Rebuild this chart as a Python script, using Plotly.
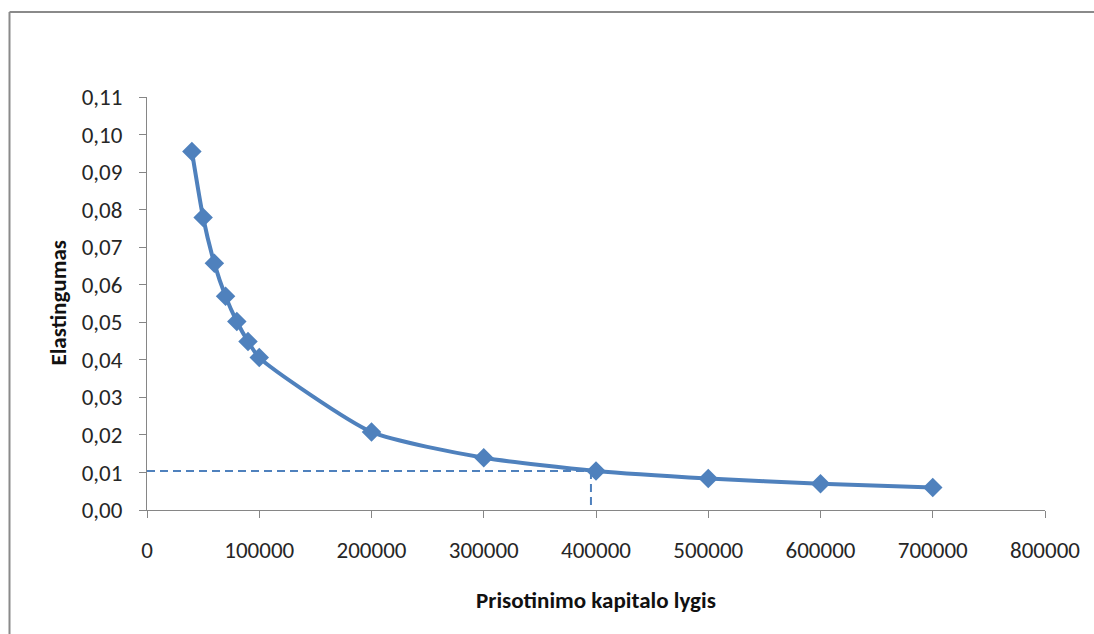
import plotly.graph_objects as go

# Data
capital = [40000, 50000, 60000, 70000, 80000, 90000, 100000,
           200000, 300000, 400000, 500000, 600000, 700000]
elasticity = [0.0955, 0.0779, 0.0657, 0.0569, 0.0502, 0.0449, 0.0406,
              0.0208, 0.0139, 0.0104, 0.0084, 0.0070, 0.0060]

# Reference (dashed) guide lines
guide_h_x = [0, 395500]
guide_h_y = [0.0104, 0.0104]
guide_v_x = [395500, 395500]
guide_v_y = [0.0104, -0.0007]

x_ticks = [0, 100000, 200000, 300000, 400000, 500000, 600000, 700000, 800000]
x_ticktext = ["0", "100000", "200000", "300000", "400000", "500000",
              "600000", "700000", "800000"]
y_ticks = [0.00, 0.01, 0.02, 0.03, 0.04, 0.05, 0.06, 0.07, 0.08, 0.09, 0.10, 0.11]
y_ticktext = ["0,00", "0,01", "0,02", "0,03", "0,04", "0,05", "0,06",
              "0,07", "0,08", "0,09", "0,10", "0,11"]

x_title = "Prisotinimo kapitalo lygis"
y_title = "Elastingumas"

blue = "#4F81BD"
axis_gray = "#868686"
text_color = "#262626"
font_family = "Carlito, Calibri, Lato, 'Open Sans', sans-serif"
tick_size = 23
title_size = 23

fig = go.Figure()

fig.add_trace(go.Scatter(
    x=guide_h_x, y=guide_h_y, mode="lines",
    line=dict(color=blue, width=2, dash="8px,5px"),
    hoverinfo="skip", cliponaxis=False, showlegend=False))
fig.add_trace(go.Scatter(
    x=guide_v_x, y=guide_v_y, mode="lines",
    line=dict(color=blue, width=2, dash="8px,5px"),
    hoverinfo="skip", cliponaxis=False, showlegend=False))

fig.add_trace(go.Scatter(
    x=capital, y=elasticity, mode="lines+markers",
    line=dict(color=blue, width=4, shape="spline", smoothing=0.6),
    marker=dict(symbol="diamond", size=15, color=blue,
                line=dict(color=blue, width=0)),
    cliponaxis=False, showlegend=False))

L, R, T, B = 147, 49, 97, 124
pw = 1094 - L - R
ph = 634 - T - B

bx = (9.5 - L) / pw
by_top = 1 + (T - 12) / ph
by_bot = -0.5
bx_right = 1.3

fig.update_layout(
    width=1094, height=634,
    margin=dict(l=L, r=R, t=T, b=B, autoexpand=False),
    paper_bgcolor="white", plot_bgcolor="white",
    font=dict(family=font_family, size=tick_size, color=text_color),
    showlegend=False,
    xaxis=dict(
        range=[0, 800000], tickvals=x_ticks, ticktext=x_ticktext,
        showgrid=False, zeroline=False,
        showline=True, linecolor=axis_gray, linewidth=1,
        ticks="outside", ticklen=7, tickcolor=axis_gray, tickwidth=1,
        ticklabelstandoff=12,
        tickfont=dict(family=font_family, size=tick_size, color=text_color),
    ),
    yaxis=dict(
        range=[0, 0.11], tickvals=y_ticks, ticktext=y_ticktext,
        showgrid=False, zeroline=False,
        showline=True, linecolor=axis_gray, linewidth=1,
        ticks="outside", ticklen=7, tickcolor=axis_gray, tickwidth=1,
        ticklabelstandoff=12,
        tickfont=dict(family=font_family, size=tick_size, color=text_color),
    ),
    annotations=[
        dict(text="<b>" + x_title + "</b>", xref="paper", yref="paper",
             x=0.5, y=-(600 - (T + ph)) / ph, xanchor="center", yanchor="middle",
             showarrow=False, font=dict(family=font_family, size=title_size, color="#111111")),
        dict(text="<b>" + y_title + "</b>", xref="paper", yref="paper",
             x=(57 - L) / pw, y=0.5, xanchor="center", yanchor="middle",
             textangle=-90, showarrow=False,
             font=dict(family=font_family, size=title_size, color="#111111")),
    ],
    shapes=[
        dict(type="line", xref="paper", yref="paper",
             x0=bx, x1=bx, y0=by_bot, y1=by_top,
             line=dict(color="#8a8a8a", width=2), layer="below"),
        dict(type="line", xref="paper", yref="paper",
             x0=bx, x1=bx_right, y0=by_top, y1=by_top,
             line=dict(color="#8a8a8a", width=2), layer="below"),
    ],
)

fig.write_html("out.html", config={"displayModeBar": False},
               post_script="document.documentElement.style.overflow='hidden';document.body.style.margin='0';document.body.style.overflow='hidden';")
